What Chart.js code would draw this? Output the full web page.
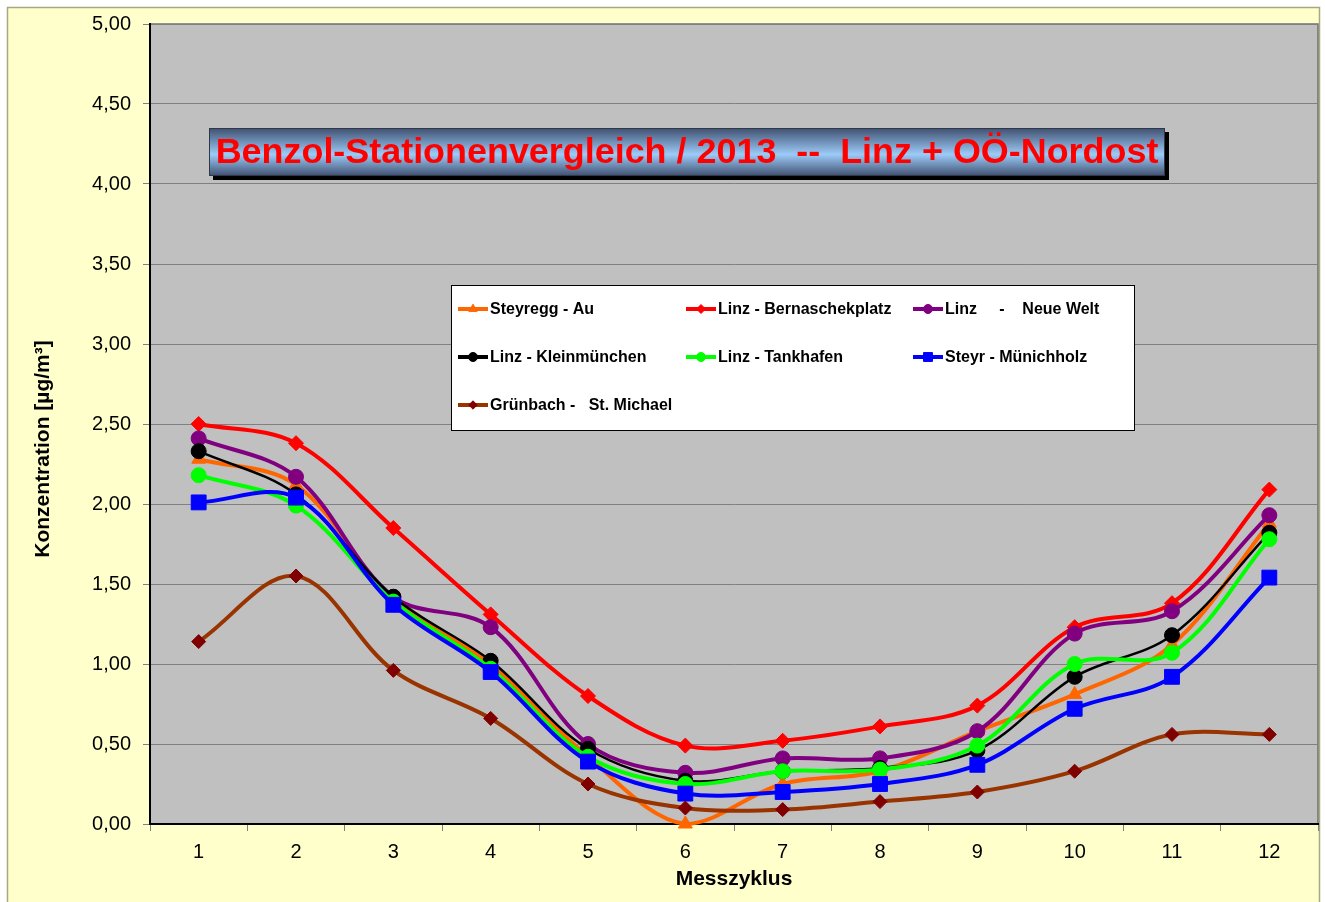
<!DOCTYPE html>
<html>
<head>
<meta charset="utf-8">
<title>Benzol-Stationenvergleich 2013</title>
<script src="https://cdn.jsdelivr.net/npm/chart.js@4.4.0/dist/chart.umd.min.js"></script>
<style>
    html, body { margin: 0; padding: 0; background: #ffffff; }
    #wrap { width: 1325px; height: 902px; position: relative; }
</style>
</head>
<body>
<div id="wrap"><canvas id="benzolChart" width="1325" height="902"></canvas></div>
<script>
// Messzyklen (x categories)
const cycles = ['1', '2', '3', '4', '5', '6', '7', '8', '9', '10', '11', '12'];

// Y axis ticks
const yMin = 0;
const yMax = 5;
const yStep = 0.5;

// Station values [µg/m³]
const steyreggAu        = [2.28, 2.12, 1.40, 1.00, 0.42, 0.00, 0.25, 0.33, 0.58, 0.81, 1.12, 1.88];
const linzBernaschek    = [2.50, 2.38, 1.85, 1.31, 0.80, 0.49, 0.52, 0.61, 0.74, 1.23, 1.38, 2.09];
const linzNeueWelt      = [2.41, 2.17, 1.42, 1.23, 0.50, 0.32, 0.41, 0.41, 0.58, 1.19, 1.33, 1.93];
const linzKleinmuenchen = [2.33, 2.06, 1.42, 1.02, 0.47, 0.27, 0.33, 0.35, 0.46, 0.92, 1.18, 1.82];
const linzTankhafen     = [2.18, 1.99, 1.39, 0.97, 0.42, 0.25, 0.33, 0.34, 0.49, 1.00, 1.07, 1.78];
const steyrMuenichholz  = [2.01, 2.04, 1.37, 0.95, 0.39, 0.19, 0.20, 0.25, 0.37, 0.72, 0.92, 1.54];
const gruenbach         = [1.14, 1.55, 0.96, 0.66, 0.25, 0.10, 0.09, 0.14, 0.20, 0.33, 0.56, 0.56];

const stationLabels = [
    'Steyregg - Au',
    'Linz - Bernaschekplatz',
    'Linz     -    Neue Welt',
    'Linz - Kleinmünchen',
    'Linz - Tankhafen',
    'Steyr - Münichholz',
    'Grünbach -   St. Michael'
];

const titleText = 'Benzol-Stationenvergleich / 2013  --  Linz + OÖ-Nordost';
const yTitleText = 'Konzentration [µg/m³]';

// Series styles (line colour, marker colour, marker style, size, width)
const seriesStyles = [
    { line: '#FF6600', marker: '#FF6600', style: 'triangle', radius: 8,  width: 4 },
    { line: '#FF0000', marker: '#FF0000', style: 'rectRot',  radius: 7.5, width: 4 },
    { line: '#800080', marker: '#800080', style: 'circle',   radius: 7.5, width: 4 },
    { line: '#000000', marker: '#000000', style: 'circle',   radius: 7.5, width: 2.5 },
    { line: '#00FF00', marker: '#00FF00', style: 'circle',   radius: 7.5, width: 4 },
    { line: '#0000FF', marker: '#0000FF', style: 'rect',     radius: 10.5, width: 4 },
    { line: '#993300', marker: '#800000', style: 'rectRot',  radius: 7,  width: 4 }
];

const seriesData = [steyreggAu, linzBernaschek, linzNeueWelt, linzKleinmuenchen,
                    linzTankhafen, steyrMuenichholz, gruenbach];

const FONT = 'Arial, "Liberation Sans", sans-serif';

function buildDatasets() {
    return seriesData.map(function(values, i) {
        const s = seriesStyles[i];
        return {
            label: stationLabels[i],
            data: values,
            borderColor: s.line,
            backgroundColor: s.marker,
            borderWidth: s.width,
            tension: 0.35,
            pointStyle: s.style,
            pointRadius: s.radius,
            pointBackgroundColor: s.marker,
            pointBorderColor: s.marker,
            pointBorderWidth: 1,
            clip: false,
            // later series drawn on top, like the original
            order: seriesData.length - i
        };
    });
}

// Page background, outer frame and grey plot area
const backgroundPlugin = {
    id: 'background',
    beforeDraw: function(chart) {
        const ctx = chart.ctx;
        const a = chart.chartArea;
        ctx.save();
        ctx.fillStyle = '#ffffff';
        ctx.fillRect(0, 0, chart.width, chart.height);
        ctx.fillStyle = '#FFFFCC';
        ctx.fillRect(7, 7, 1312, chart.height);
        ctx.strokeStyle = '#A8A880';
        ctx.lineWidth = 1.5;
        ctx.beginPath();
        ctx.moveTo(7.5, chart.height);
        ctx.lineTo(7.5, 7.5);
        ctx.lineTo(1319.5, 7.5);
        ctx.lineTo(1319.5, chart.height);
        ctx.stroke();
        ctx.fillStyle = '#C0C0C0';
        ctx.fillRect(a.left, a.top, a.right - a.left, a.bottom - a.top);
        ctx.strokeStyle = '#707070';
        ctx.lineWidth = 1.5;
        ctx.beginPath();
        ctx.moveTo(a.left, a.top);
        ctx.lineTo(a.right, a.top);
        ctx.lineTo(a.right, a.bottom);
        ctx.stroke();
        ctx.restore();
    }
};

// Y axis title, title box and legend box drawn over the plot
const overlayPlugin = {
    id: 'overlay',
    afterDraw: function(chart) {
        const ctx = chart.ctx;
        ctx.save();

        // y axis title
        ctx.translate(43, 449);
        ctx.rotate(-Math.PI / 2);
        ctx.font = 'bold 21px ' + FONT;
        ctx.fillStyle = '#000000';
        ctx.textAlign = 'center';
        ctx.textBaseline = 'middle';
        ctx.fillText(yTitleText, 0, 0);
        ctx.setTransform(1, 0, 0, 1, 0, 0);

        // title box
        const bx = 209, by = 128, bw = 956, bh = 48;
        ctx.fillStyle = '#000000';
        ctx.fillRect(bx + 4, by + 4, bw, bh);
        const grad = ctx.createLinearGradient(0, by, 0, by + bh);
        grad.addColorStop(0, '#405070');
        grad.addColorStop(0.55, '#9CCBF8');
        grad.addColorStop(1, '#405070');
        ctx.fillStyle = grad;
        ctx.fillRect(bx, by, bw, bh);
        ctx.strokeStyle = '#303848';
        ctx.lineWidth = 1;
        ctx.strokeRect(bx + 0.5, by + 0.5, bw - 1, bh - 1);

        let size = 36;
        ctx.font = 'bold ' + size + 'px ' + FONT;
        const w = ctx.measureText(titleText).width;
        size = size * 943 / w;
        ctx.font = 'bold ' + size.toFixed(2) + 'px ' + FONT;
        ctx.fillStyle = '#FF0000';
        ctx.textAlign = 'center';
        ctx.textBaseline = 'middle';
        ctx.fillText(titleText, bx + bw / 2, by + bh / 2 + 1);

        // legend box
        const lx = 451, ly = 285, lw = 683, lh = 145;
        ctx.fillStyle = '#ffffff';
        ctx.fillRect(lx, ly, lw, lh);
        ctx.strokeStyle = '#000000';
        ctx.lineWidth = 1;
        ctx.strokeRect(lx + 0.5, ly + 0.5, lw, lh);

        const colX = [458, 686, 913];
        const rowY = [309, 357, 405];
        ctx.font = 'bold 16px ' + FONT;
        ctx.textAlign = 'left';
        ctx.textBaseline = 'middle';
        stationLabels.forEach(function(label, i) {
            const s = seriesStyles[i];
            const x = colX[i % 3];
            const y = rowY[Math.floor(i / 3)];
            ctx.strokeStyle = s.line;
            ctx.lineWidth = 4;
            ctx.beginPath();
            ctx.moveTo(x, y);
            ctx.lineTo(x + 30, y);
            ctx.stroke();
            ctx.fillStyle = s.marker;
            ctx.strokeStyle = s.marker;
            ctx.lineWidth = 1;
            Chart.helpers.drawPoint(ctx, { pointStyle: s.style, radius: s.radius * 0.6, rotation: 0, borderWidth: 1 }, x + 15, y);
            ctx.fillStyle = '#000000';
            ctx.fillText(label, x + 32, y + 1);
        });

        ctx.restore();
    }
};

function initBenzolChart() {
    const ctx = document.getElementById('benzolChart');

    new Chart(ctx, {
        type: 'line',
        data: {
            labels: cycles,
            datasets: buildDatasets()
        },
        options: {
            responsive: false,
            animation: false,
            layout: {
                autoPadding: false,
                padding: { left: 0, top: 22, right: 7, bottom: 0 }
            },
            scales: {
                x: {
                    offset: true,
                    afterFit: function(scale) {
                        scale.height = 78;
                        scale.paddingLeft = 0;
                        scale.paddingRight = 0;
                    },
                    grid: {
                        offset: true,
                        drawOnChartArea: false,
                        drawTicks: true,
                        tickLength: 7,
                        color: '#808080',
                        tickColor: '#808080'
                    },
                    border: { color: '#000000', width: 2 },
                    ticks: {
                        color: '#000000',
                        padding: 9,
                        font: { size: 20, family: FONT }
                    },
                    title: {
                        display: true,
                        text: 'Messzyklus',
                        color: '#000000',
                        padding: { top: 0, bottom: 10 },
                        font: { size: 21, weight: 'bold', family: FONT }
                    }
                },
                y: {
                    min: yMin,
                    max: yMax,
                    afterFit: function(scale) { scale.width = 150; },
                    grid: {
                        color: '#808080',
                        lineWidth: 1,
                        drawTicks: true,
                        tickLength: 7,
                        tickColor: '#808080'
                    },
                    border: { color: '#000000', width: 2 },
                    ticks: {
                        stepSize: yStep,
                        color: '#000000',
                        padding: 12,
                        font: { size: 20, family: FONT },
                        callback: function(value) {
                            return value.toFixed(2).replace('.', ',');
                        }
                    }
                }
            },
            plugins: {
                legend: { display: false },
                tooltip: { enabled: false }
            }
        },
        plugins: [backgroundPlugin, overlayPlugin]
    });
}

document.addEventListener('DOMContentLoaded', initBenzolChart);
</script>
</body>
</html>
